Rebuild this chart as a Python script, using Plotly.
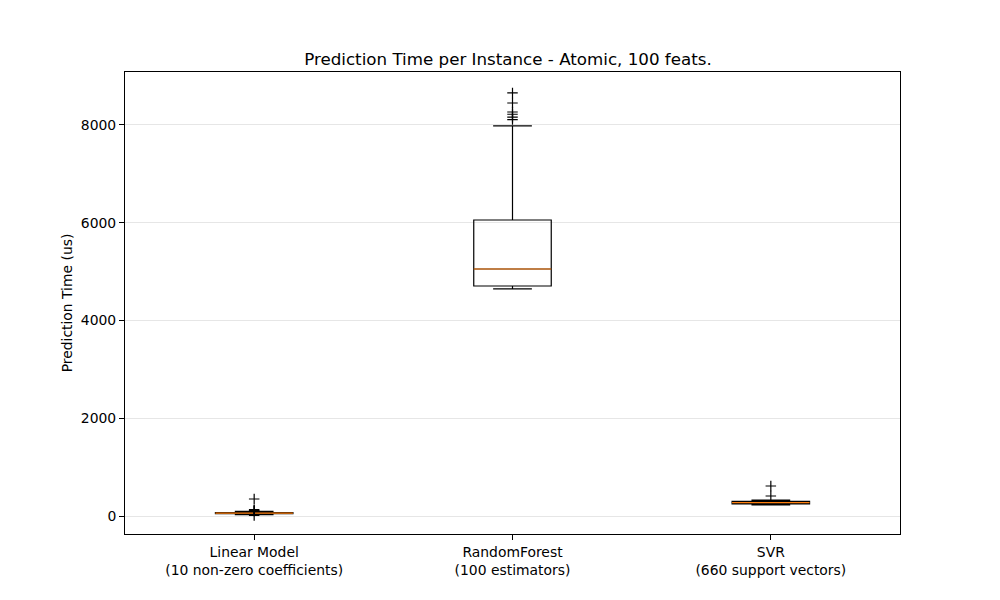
import plotly.graph_objects as go

categories = ["Linear Model<br>(10 non-zero coefficients)",
              "RandomForest<br>(100 estimators)",
              "SVR<br>(660 support vectors)"]
positions = [1, 2, 3]
q1 = [48, 4706, 250]
median = [58, 5054, 272]
q3 = [68, 6056, 300]
lower_whisker = [30, 4645, 228]
upper_whisker = [95, 7980, 325]
outliers = [
    [348, 130, 112, 100, 10],
    [8655, 8450, 8266, 8220, 8160, 8110],
    [614, 409],
]
yticks = [0, 2000, 4000, 6000, 8000]
box_width = 0.3

fig = go.Figure()

for i, pos in enumerate(positions):
    fig.add_trace(go.Box(
        x=[pos], q1=[q1[i]], median=[median[i]], q3=[q3[i]],
        lowerfence=[lower_whisker[i]], upperfence=[upper_whisker[i]],
        width=box_width, whiskerwidth=0.5,
        line=dict(color="black", width=1.2), fillcolor="rgba(255,255,255,0)",
        boxpoints=False, showlegend=False, hoverinfo="skip",
    ))
    fig.add_trace(go.Scatter(
        x=[pos - box_width / 2, pos + box_width / 2], y=[median[i], median[i]],
        mode="lines", line=dict(color="#ff7f0e", width=1.2),
        showlegend=False, hoverinfo="skip",
    ))
    fig.add_trace(go.Scatter(
        x=[pos] * len(outliers[i]), y=outliers[i], mode="markers",
        marker=dict(symbol="cross-thin", size=7.5, line=dict(color="black", width=1.2)),
        showlegend=False, hoverinfo="skip",
    ))

fig.update_layout(
    width=1000, height=600,
    plot_bgcolor="white", paper_bgcolor="white",
    margin=dict(l=117, r=108, t=64, b=74),
    font=dict(family="DejaVu Sans", size=13.9, color="black"),
    title=dict(text="Prediction Time per Instance - Atomic, 100 feats.",
               x=0.5, xanchor="center", y=1 - 51 / 600, yanchor="middle",
               font=dict(size=16.7)),
    xaxis=dict(range=[0.5, 3.5], tickmode="array", tickvals=positions, ticktext=categories,
               showgrid=False, zeroline=False, showline=True, linecolor="black", linewidth=1,
               mirror=True, ticks="outside", ticklen=5, tickcolor="black"),
    yaxis=dict(range=[-368, 9084], tickmode="array", tickvals=yticks,
               ticktext=[str(v) for v in yticks],
               showgrid=True, gridcolor="#e6e6e6", gridwidth=1, zeroline=False,
               showline=True, linecolor="black", linewidth=1, mirror=True,
               ticks="outside", ticklen=5, tickcolor="black",
               title=dict(text="Prediction Time (us)", standoff=4, font=dict(size=13.9))),
)

fig.write_html("out.html")
